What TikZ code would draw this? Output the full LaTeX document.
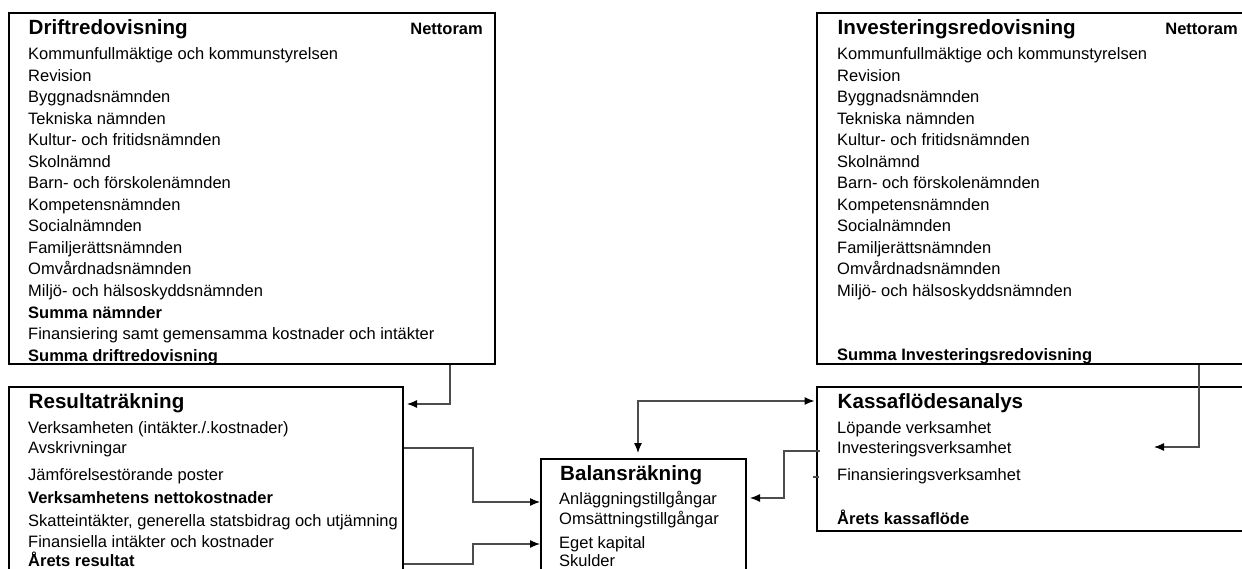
\documentclass[tikz,border=0pt]{standalone}
\usepackage{fontspec}
\setmainfont{Liberation Sans}
\usetikzlibrary{arrows.meta}

\newcommand\namnder{Kommunfullmäktige och kommunstyrelsen, Revision, Byggnadsnämnden,
  Tekniska nämnden, Kultur- och fritidsnämnden, Skolnämnd, Barn- och förskolenämnden,
  Kompetensnämnden, Socialnämnden, Familjerättsnämnden, Omvårdnadsnämnden,
  Miljö- och hälsoskyddsnämnden}

\begin{document}
\begin{tikzpicture}[
  x=1pt, y=-1pt,
  box/.style={draw, line width=2pt, rectangle, inner sep=0pt},
  ttl/.style={anchor=base west, inner sep=0pt, text=black,
              font=\fontsize{20.6}{24}\selectfont\bfseries},
  txt/.style={anchor=base west, inner sep=0pt, text=black,
              font=\fontsize{16.5}{19}\selectfont},
  sum/.style={txt, font=\fontsize{16.5}{19}\selectfont\bfseries},
  conn/.style={draw=black!70, line width=1.2pt,
               -{Latex[length=10pt,width=8pt,color=black]}}
]
  \useasboundingbox (0,0) rectangle (1242,569);
  \clip (0,0) rectangle (1242,569);

  % boxes
  \node[box, minimum width=486pt, minimum height=351pt] (drift)  at (252,188.5)   {};
  \node[box, minimum width=443pt, minimum height=351pt] (invest) at (1038.5,188.5) {};
  \node[box, minimum width=394pt, minimum height=213pt] (result) at (206,493.5)   {};
  \node[box, minimum width=205pt, minimum height=141pt] (balans) at (643.5,529.5) {};
  \node[box, minimum width=443pt, minimum height=144pt] (kassa)  at (1038.5,459)  {};

  % Driftredovisning
  \node[ttl] (dT) at (28.5,35) {Driftredovisning};
  \node[sum, anchor=base east] (dN) at (483,35) {Nettoram};
  \foreach \t [count=\i from 0] in \namnder
    \node[txt] (d\i) at (28,{60+21.5*\i}) {\t};
  \node[sum] (dS1) at (28,318)   {Summa nämnder};
  \node[txt] (dF)  at (28,339.5) {Finansiering samt gemensamma kostnader och intäkter};
  \node[sum] (dS2) at (28,361)   {Summa driftredovisning};

  % Investeringsredovisning
  \node[ttl] (iT) at (837.5,35) {Investeringsredovisning};
  \node[sum, anchor=base east] (iN) at (1238,35) {Nettoram};
  \foreach \t [count=\i from 0] in \namnder
    \node[txt] (i\i) at (837,{60+21.5*\i}) {\t};
  \node[sum] (iS) at (837,360) {Summa Investeringsredovisning};

  % Resultaträkning
  \node[ttl] (rT) at (28.5,408) {Resultaträkning};
  \node[txt] (r1) at (28,433) {Verksamheten (intäkter./.kostnader)};
  \node[txt] (r2) at (28,453) {Avskrivningar};
  \node[txt] (r3) at (28,480) {Jämförelsestörande poster};
  \node[sum] (r4) at (28,503) {Verksamhetens nettokostnader};
  \node[txt] (r5) at (28,526) {Skatteintäkter, generella statsbidrag och utjämning};
  \node[txt] (r6) at (28,547) {Finansiella intäkter och kostnader};
  \node[sum] (r7) at (28,566) {Årets resultat};

  % Balansräkning
  \node[ttl] (bT) at (560,480) {Balansräkning};
  \node[txt] (b1) at (559,504) {Anläggningstillgångar};
  \node[txt] (b2) at (559,524) {Omsättningstillgångar};
  \node[txt] (b3) at (559,548) {Eget kapital};
  \node[txt] (b4) at (559,566) {Skulder};

  % Kassaflödesanalys
  \node[ttl] (kT) at (837.5,408) {Kassaflödesanalys};
  \node[txt] (k1) at (837,433) {Löpande verksamhet};
  \node[txt] (k2) at (837,453) {Investeringsverksamhet};
  \node[txt] (k3) at (837,480) {Finansieringsverksamhet};
  \node[sum] (k4) at (837,524) {Årets kassaflöde};

  % connectors
  \coordinate (invtip) at (1154,447);
  \draw[conn, shorten >=3pt] (drift.south -| 450,0) |- (result.east |- 0,404);
  \draw[conn] (invest.south -| 1199,0) |- (invtip);
  \draw[conn] (result.east |- 0,448) -| (473,475) |- (balans.west |- 0,502);
  \draw[conn] (result.east |- 0,564) -| (473,555) |- (balans.west |- 0,544);
  \draw[conn, {Latex[length=10pt,width=8pt,color=black]}-{Latex[length=10pt,width=8pt,color=black]},
        shorten <=5pt, shorten >=1.5pt]
    (balans.north -| 638,0) |- (kassa.west |- 0,401);
  \draw[conn, shorten >=3pt] (kassa.west |- 0,451) ++(4,0) -| (784,475) |- (balans.east |- 0,498);
  \draw[draw=black!70, line width=1.2pt] (kassa.west |- 0,477) ++(-3,0) -- ++(6,0);
\end{tikzpicture}
\end{document}
